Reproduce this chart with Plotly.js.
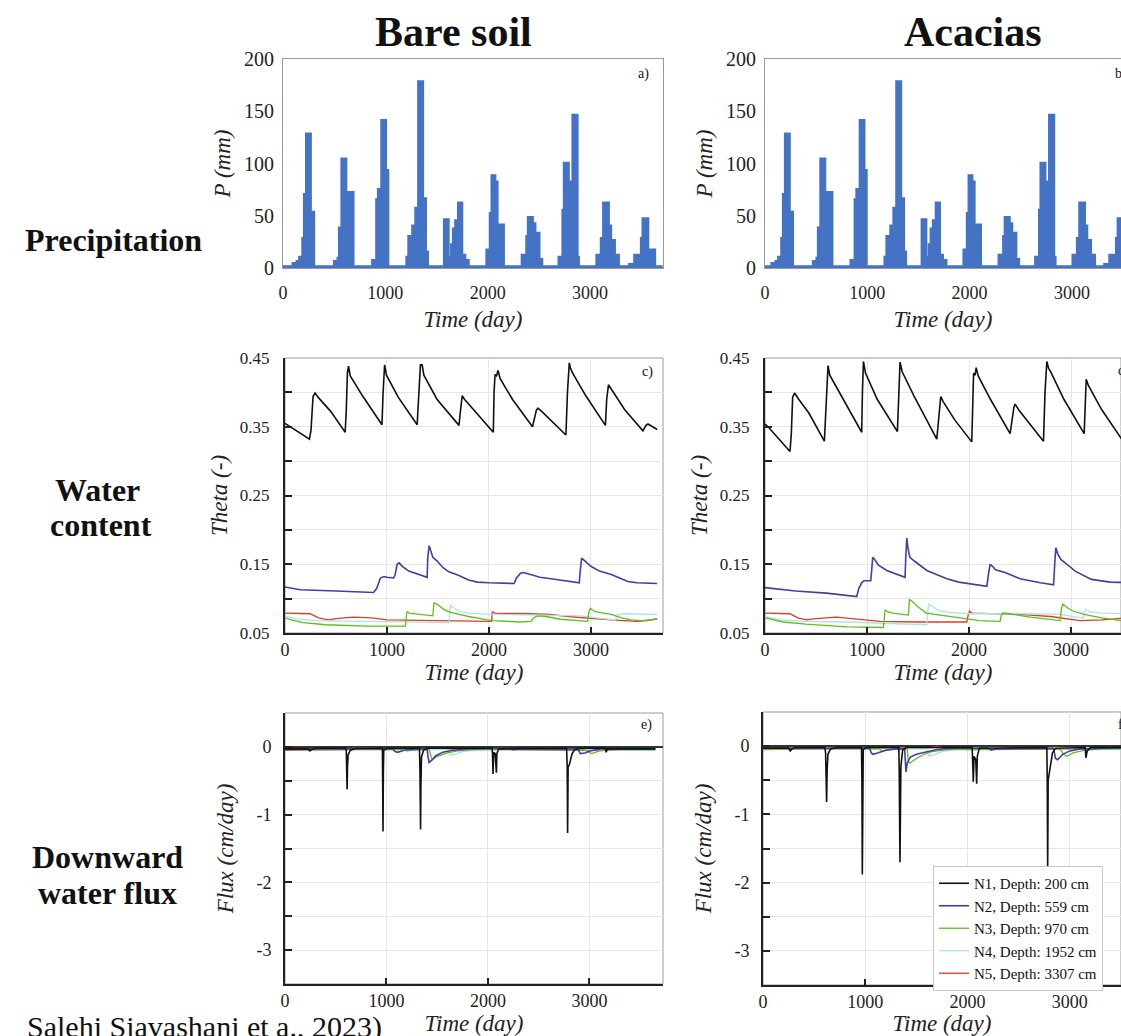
<!DOCTYPE html>
<html><head><meta charset="utf-8">
<script src="https://cdn.plot.ly/plotly-3.0.1.min.js"></script>
<style>html,body{margin:0;padding:0;background:#fff}#chart{width:1121px;height:1036px}</style>
</head><body><div id="chart"></div>
<script>
// ---------------- DATA ----------------
// Precipitation (step starts: day, mm), read off panel a) and panel b)
const pDayBare = [0,100,140,165,196,212,232,265,297,505,540,554,578,612,682,878,918,935,968,1000,1022,1213,1232,1270,1300,1328,1362,1390,1410,1580,1612,1650,1668,1690,1718,1745,1775,1808,1995,2028,2045,2068,2090,2098,2152,2340,2385,2400,2435,2460,2500,2527,2700,2738,2752,2786,2820,2836,2872,2885,3070,3113,3136,3178,3200,3237,3276,3390,3440,3472,3505,3521,3563,3586,3630,3710];
const pDayAcacia = [0,70,110,135,166,182,202,235,267,475,510,524,548,582,652,843,883,900,933,965,987,1175,1194,1232,1262,1290,1324,1352,1372,1538,1570,1608,1626,1648,1676,1703,1733,1766,1947,1980,1997,2020,2042,2050,2104,2290,2335,2350,2385,2410,2450,2477,2648,2686,2700,2734,2768,2784,2820,2833,3013,3056,3079,3121,3143,3180,3219,3323,3373,3405,3438,3454,3496,3519,3563,3643];
const pVal = [1,4,6,10,28,70,128,53,1,6,9,38,104,72,1,7,65,75,141,93,1,10,30,40,57,178,66,15,1,46,10,22,37,45,62,12,7,1,17,52,88,82,30,41,1,12,30,48,42,33,8,1,10,55,100,82,55,146,10,1,12,28,62,40,26,12,1,3,12,8,28,47,5,17,1,1];

const nodeNames = ['N1, Depth: 200 cm','N2, Depth: 559 cm','N3, Depth: 970 cm','N4, Depth: 1952 cm','N5, Depth: 3307 cm'];

// Water content, bare soil [day, theta]
const thetaBareN1 = [[0,0.355],[30,0.352],[240,0.332],[255,0.345],[275,0.394],[295,0.399],[330,0.392],[450,0.372],[590,0.342],[600,0.37],[612,0.428],[623,0.438],[640,0.424],[760,0.395],[951,0.353],[962,0.40],[977,0.44],[995,0.425],[1110,0.393],[1296,0.353],[1310,0.40],[1328,0.44],[1345,0.44],[1362,0.425],[1490,0.39],[1706,0.352],[1722,0.375],[1738,0.395],[1760,0.39],[1880,0.37],[2043,0.342],[2050,0.40],[2060,0.426],[2075,0.424],[2089,0.432],[2110,0.42],[2230,0.39],[2427,0.35],[2440,0.36],[2465,0.374],[2480,0.377],[2520,0.372],[2755,0.338],[2770,0.40],[2788,0.443],[2800,0.435],[2821,0.428],[2950,0.395],[3142,0.352],[3155,0.39],[3172,0.411],[3190,0.407],[3330,0.375],[3510,0.344],[3540,0.352],[3560,0.354],[3600,0.35],[3650,0.346]];
const thetaBareN2 = [[0,0.117],[150,0.113],[500,0.111],[869,0.109],[900,0.115],[935,0.13],[970,0.132],[1000,0.131],[1066,0.13],[1080,0.135],[1100,0.15],[1120,0.152],[1150,0.147],[1214,0.14],[1394,0.131],[1400,0.16],[1414,0.177],[1430,0.17],[1450,0.16],[1490,0.155],[1550,0.145],[1607,0.139],[1700,0.134],[1800,0.127],[1886,0.124],[2000,0.123],[2247,0.122],[2270,0.13],[2310,0.137],[2340,0.138],[2400,0.135],[2500,0.131],[2608,0.129],[2886,0.123],[2895,0.14],[2909,0.159],[2940,0.155],[3000,0.147],[3083,0.14],[3200,0.135],[3362,0.125],[3450,0.123],[3650,0.122]];
const thetaBareN3 = [[0,0.072],[60,0.069],[180,0.065],[400,0.062],[800,0.06],[1181,0.06],[1190,0.075],[1197,0.081],[1220,0.079],[1450,0.075],[1455,0.085],[1462,0.094],[1500,0.091],[1560,0.084],[1624,0.08],[1800,0.074],[1984,0.069],[2050,0.068],[2300,0.066],[2411,0.067],[2440,0.072],[2476,0.075],[2560,0.074],[2700,0.07],[2968,0.067],[2980,0.08],[2995,0.086],[3040,0.081],[3198,0.077],[3300,0.072],[3395,0.069],[3500,0.068],[3650,0.07]];
const thetaBareN4 = [[0,0.075],[100,0.071],[300,0.068],[800,0.067],[1610,0.065],[1615,0.08],[1624,0.09],[1660,0.086],[1720,0.081],[1800,0.079],[2000,0.077],[2500,0.076],[2900,0.075],[3050,0.072],[3200,0.069],[3240,0.069],[3260,0.076],[3300,0.078],[3650,0.077]];
const thetaBareN5 = [[0,0.079],[100,0.079],[246,0.078],[330,0.072],[426,0.069],[500,0.071],[672,0.073],[850,0.072],[1000,0.069],[1500,0.068],[2000,0.067],[2025,0.067],[2034,0.081],[2060,0.079],[2400,0.078],[2600,0.077],[2772,0.074],[3000,0.071],[3198,0.069],[3450,0.067],[3550,0.068],[3650,0.071]];

// Water content, acacias [day, theta]
const thetaAcaN1 = [[0,0.354],[30,0.35],[245,0.314],[258,0.34],[271,0.393],[290,0.399],[330,0.39],[430,0.37],[582,0.329],[595,0.37],[610,0.429],[618,0.439],[635,0.425],[750,0.395],[948,0.342],[955,0.40],[965,0.445],[985,0.428],[1100,0.39],[1298,0.343],[1310,0.40],[1324,0.444],[1345,0.43],[1460,0.395],[1684,0.332],[1700,0.36],[1723,0.394],[1745,0.387],[1860,0.36],[2027,0.328],[2035,0.39],[2045,0.428],[2060,0.425],[2070,0.436],[2090,0.424],[2210,0.39],[2403,0.34],[2420,0.36],[2440,0.378],[2452,0.383],[2490,0.374],[2730,0.329],[2745,0.40],[2763,0.445],[2780,0.435],[2800,0.43],[2930,0.39],[3129,0.34],[3140,0.38],[3149,0.419],[3170,0.41],[3300,0.375],[3492,0.333],[3520,0.34],[3560,0.345],[3650,0.335]];
const thetaAcaN2 = [[0,0.116],[300,0.111],[600,0.108],[899,0.103],[920,0.115],[948,0.123],[970,0.126],[1037,0.126],[1045,0.14],[1056,0.16],[1075,0.157],[1110,0.149],[1194,0.141],[1373,0.131],[1380,0.16],[1390,0.188],[1400,0.175],[1420,0.16],[1470,0.154],[1586,0.141],[1700,0.134],[1782,0.129],[1900,0.124],[2000,0.122],[2175,0.118],[2190,0.135],[2207,0.15],[2230,0.147],[2260,0.142],[2354,0.138],[2500,0.129],[2700,0.123],[2829,0.12],[2840,0.15],[2851,0.174],[2870,0.165],[2900,0.157],[2960,0.15],[3041,0.14],[3200,0.128],[3384,0.124],[3650,0.123]];
const thetaAcaN3 = [[0,0.072],[180,0.066],[400,0.063],[800,0.059],[1161,0.058],[1170,0.075],[1177,0.084],[1200,0.081],[1250,0.079],[1406,0.076],[1410,0.09],[1416,0.099],[1450,0.095],[1500,0.088],[1580,0.079],[1800,0.074],[1978,0.07],[2100,0.068],[2305,0.067],[2315,0.075],[2332,0.079],[2400,0.078],[2600,0.073],[2894,0.068],[2905,0.085],[2920,0.092],[2960,0.087],[3020,0.082],[3129,0.077],[3300,0.072],[3492,0.068],[3650,0.07]];
const thetaAcaN4 = [[0,0.074],[150,0.069],[400,0.067],[800,0.066],[1586,0.062],[1595,0.08],[1602,0.092],[1640,0.089],[1700,0.083],[1800,0.08],[2000,0.078],[2500,0.078],[2900,0.077],[3050,0.073],[3120,0.072],[3130,0.08],[3139,0.085],[3180,0.081],[3280,0.079],[3650,0.078]];
const thetaAcaN5 = [[0,0.079],[120,0.079],[245,0.078],[320,0.072],[409,0.069],[500,0.071],[703,0.073],[850,0.071],[1128,0.067],[1500,0.066],[1978,0.066],[1990,0.075],[2004,0.082],[2030,0.079],[2300,0.078],[2500,0.077],[2800,0.074],[3090,0.068],[3300,0.069],[3492,0.072],[3650,0.073]];

// Downward water flux, bare soil [day, cm/day]
const fluxBareN1 = [[0,-0.03],[230,-0.03],[245,-0.06],[260,-0.04],[300,-0.02],[594,-0.02],[604,-0.05],[609,-0.3],[612,-0.63],[616,-0.3],[622,-0.12],[644,-0.05],[700,-0.02],[960,-0.02],[963,-0.5],[966,-1.25],[969,-0.4],[973,-0.05],[1005,-0.02],[1325,-0.02],[1330,-0.35],[1333,-0.8],[1336,-1.22],[1339,-0.6],[1345,-0.15],[1365,-0.05],[1400,-0.02],[2040,-0.02],[2045,-0.1],[2050,-0.4],[2056,-0.08],[2071,-0.1],[2083,-0.38],[2088,-0.1],[2105,-0.03],[2775,-0.02],[2781,-0.3],[2785,-1.27],[2790,-0.3],[2805,-0.25],[2815,-0.18],[2830,-0.1],[2855,-0.04],[2910,-0.02],[3156,-0.02],[3165,-0.08],[3176,-0.03],[3650,-0.03]];
const fluxBareN2 = [[0,-0.03],[1000,-0.02],[1060,-0.03],[1085,-0.07],[1110,-0.08],[1150,-0.06],[1200,-0.04],[1300,-0.03],[1400,-0.03],[1410,-0.15],[1420,-0.23],[1445,-0.2],[1485,-0.13],[1555,-0.08],[1655,-0.05],[1800,-0.03],[2200,-0.02],[2250,-0.04],[2300,-0.03],[2885,-0.03],[2910,-0.1],[2955,-0.09],[3005,-0.06],[3105,-0.03],[3650,-0.03]];
const fluxBareN3 = [[0,-0.04],[1150,-0.04],[1200,-0.06],[1250,-0.05],[1420,-0.04],[1435,-0.12],[1450,-0.19],[1500,-0.14],[1600,-0.09],[1700,-0.06],[1850,-0.04],[2950,-0.04],[2990,-0.07],[3020,-0.1],[3100,-0.06],[3250,-0.04],[3650,-0.04]];
const fluxBareN4 = [[0,-0.04],[1595,-0.04],[1615,-0.08],[1635,-0.13],[1685,-0.1],[1755,-0.07],[1855,-0.05],[2000,-0.04],[3250,-0.04],[3300,-0.05],[3650,-0.05]];
const fluxBareN5 = [[0,-0.05],[600,-0.04],[700,-0.01],[900,-0.02],[1600,-0.03],[2000,-0.04],[2800,-0.05],[3650,-0.04]];

// Downward water flux, acacias [day, cm/day]
const fluxAcaN1 = [[0,-0.03],[250,-0.03],[266,-0.07],[285,-0.04],[320,-0.02],[605,-0.02],[612,-0.1],[617,-0.35],[622,-0.82],[627,-0.35],[635,-0.12],[660,-0.04],[720,-0.02],[963,-0.02],[967,-0.5],[971,-1.88],[975,-0.5],[980,-0.05],[1010,-0.02],[1328,-0.02],[1332,-0.4],[1335,-0.85],[1339,-1.7],[1343,-1.1],[1348,-0.3],[1365,-0.06],[1400,-0.02],[2045,-0.02],[2050,-0.2],[2056,-0.52],[2063,-0.15],[2080,-0.2],[2089,-0.55],[2095,-0.15],[2115,-0.03],[2775,-0.02],[2779,-0.5],[2783,-1.8],[2788,-0.5],[2800,-0.38],[2815,-0.25],[2830,-0.1],[2860,-0.03],[3150,-0.02],[3157,-0.17],[3170,-0.07],[3200,-0.02],[3650,-0.02]];
const fluxAcaN2 = [[0,-0.03],[1040,-0.03],[1060,-0.1],[1075,-0.12],[1120,-0.1],[1200,-0.06],[1300,-0.04],[1385,-0.04],[1393,-0.25],[1398,-0.38],[1410,-0.25],[1440,-0.16],[1500,-0.12],[1600,-0.08],[1700,-0.05],[1850,-0.03],[2200,-0.03],[2230,-0.06],[2280,-0.04],[2840,-0.03],[2860,-0.18],[2880,-0.2],[2930,-0.12],[3000,-0.07],[3100,-0.04],[3650,-0.02]];
const fluxAcaN3 = [[0,-0.04],[1140,-0.04],[1165,-0.08],[1200,-0.06],[1300,-0.04],[1410,-0.04],[1420,-0.22],[1435,-0.25],[1480,-0.2],[1560,-0.13],[1650,-0.08],[1800,-0.05],[2900,-0.04],[2940,-0.12],[2970,-0.15],[3030,-0.1],[3150,-0.06],[3300,-0.04],[3650,-0.04]];
const fluxAcaN4 = [[0,-0.04],[1595,-0.04],[1610,-0.1],[1625,-0.15],[1680,-0.12],[1750,-0.08],[1850,-0.05],[2000,-0.04],[3150,-0.04],[3170,-0.06],[3250,-0.05],[3650,-0.05]];
const fluxAcaN5 = [[0,-0.05],[600,-0.04],[1650,-0.02],[1700,0.0],[1750,-0.02],[2000,-0.05],[2800,-0.05],[3650,-0.04]];

const timeTicks = [0,1000,2000,3000];
const thetaTicks = [0.05,0.10,0.15,0.20,0.25,0.30,0.35,0.40,0.45];
const thetaTickText = ['0.05','','0.15','','0.25','','0.35','','0.45'];
const fluxTicks = [-3.5,-3,-2.5,-2,-1.5,-1,-0.5,0,0.5];
const fluxTickText = ['','-3','','-2','','-1','','0',''];

// ---------------- STYLE ----------------
const W = 1121, H = 1036;
const px = v => v / W;
const py = v => 1 - v / H;
const SERIF = 'Liberation Serif, Times New Roman, serif';
const nodeColors = ['#111111','#4a3aa6','#5cbf1f','#a9e4e4','#e23a1f'];
const nodeWidths = [1.6,1.6,1.3,1.3,1.3];

const traces = [];
traces.push({x:pDayBare, y:pVal, type:'scatter', mode:'lines', line:{shape:'hv', color:'#4472c4', width:3.5}, fill:'tozeroy', fillcolor:'#4472c4', xaxis:'x', yaxis:'y', showlegend:false, hoverinfo:'skip'});
traces.push({x:pDayAcacia, y:pVal, type:'scatter', mode:'lines', line:{shape:'hv', color:'#4472c4', width:3.5}, fill:'tozeroy', fillcolor:'#4472c4', xaxis:'x2', yaxis:'y2', showlegend:false, hoverinfo:'skip'});

function addGroup(series, xa, ya, legend) {
  for (let i = series.length - 1; i >= 0; i--) {
    traces.push({
      x: series[i].map(d => d[0]), y: series[i].map(d => d[1]),
      type:'scatter', mode:'lines', name: nodeNames[i],
      line:{color:nodeColors[i], width:nodeWidths[i]},
      xaxis:xa, yaxis:ya, showlegend:legend, hoverinfo:'skip'
    });
  }
}
addGroup([thetaBareN1,thetaBareN2,thetaBareN3,thetaBareN4,thetaBareN5],'x3','y3',false);
addGroup([thetaAcaN1,thetaAcaN2,thetaAcaN3,thetaAcaN4,thetaAcaN5],'x4','y4',false);
addGroup([fluxBareN1,fluxBareN2,fluxBareN3,fluxBareN4,fluxBareN5],'x5','y5',false);
addGroup([fluxAcaN1,fluxAcaN2,fluxAcaN3,fluxAcaN4,fluxAcaN5],'x6','y6',true);

const tickFont = {family:SERIF, size:18, color:'#222'};
const titleFont = {family:SERIF, size:23, color:'#222', style:'italic'};

function precipX(dom, range, anchor) {
  return {domain:dom, range:range, anchor:anchor, tickvals:timeTicks, showgrid:false, zeroline:false,
    showline:true, mirror:true, linecolor:'#9a9a9a', linewidth:1, ticks:'', ticklabelstandoff:8,
    tickfont:tickFont, title:{text:'Time (day)', font:titleFont, standoff:9}};
}
function precipY(dom, anchor) {
  return {domain:dom, range:[0,200], anchor:anchor, dtick:50, showgrid:false, zeroline:false,
    showline:true, mirror:true, linecolor:'#9a9a9a', linewidth:1, ticks:'', ticklabelstandoff:4,
    tickfont:{family:SERIF, size:20, color:'#222'}, title:{text:'P (mm)', font:titleFont, standoff:6}};
}
function lowerX(dom, range, anchor, standoff) {
  return {domain:dom, range:range, anchor:anchor, tickvals:timeTicks, showgrid:true, gridcolor:'#e6e6e6', zeroline:false,
    showline:true, linecolor:'#222', linewidth:2, ticks:'inside', ticklen:6, tickwidth:2, tickcolor:'#222',
    ticklabelstandoff:-1, tickfont:tickFont, title:{text:'Time (day)', font:titleFont, standoff:standoff}};
}
function thetaY(dom, anchor) {
  return {domain:dom, range:[0.05,0.45], anchor:anchor, tickvals:thetaTicks, ticktext:thetaTickText,
    showgrid:true, gridcolor:'#e6e6e6', zeroline:false, showline:true, linecolor:'#222', linewidth:2,
    ticks:'inside', ticklen:7, tickwidth:2, tickcolor:'#222', ticklabelstandoff:10,
    tickfont:{family:SERIF, size:17, color:'#222'},
    title:{text:'Theta (-)', font:titleFont, standoff:6}};
}
function fluxY(dom, anchor) {
  return {domain:dom, range:[-3.5,0.5], anchor:anchor, tickvals:fluxTicks, ticktext:fluxTickText,
    showgrid:true, gridcolor:'#e6e6e6', zeroline:true, zerolinecolor:'#333', zerolinewidth:1.5,
    showline:true, linecolor:'#222', linewidth:2, ticks:'inside', ticklen:7, tickwidth:2, tickcolor:'#222',
    ticklabelstandoff:8, tickfont:{family:SERIF, size:18, color:'#222'},
    title:{text:'Flux (cm/day)', font:titleFont, standoff:16}};
}

const colL = [px(283), px(663)], colR = [px(765), 1];
const colL2 = [px(285), px(663)], colR2 = [px(765), 1];
const row1 = [py(268), py(59)], row2 = [py(633), py(358)], row3 = [py(984), py(713)];

function box(n) {
  return {type:'rect', xref:'x'+n+' domain', yref:'y'+n+' domain', x0:0, x1:1, y0:0, y1:1,
    line:{color:'#9a9a9a', width:1}, layer:'below'};
}
function ann(text, x, y, size, opts) {
  return Object.assign({text:text, x:px(x), y:py(y), xref:'paper', yref:'paper', showarrow:false,
    font:{family:SERIF, size:size, color:'#111'}, xanchor:'center', yanchor:'middle'}, opts||{});
}

const layout = {
  width:W, height:H, margin:{l:0, r:0, t:0, b:0}, paper_bgcolor:'#fff', plot_bgcolor:'#fff',
  font:{family:SERIF, color:'#222'},
  xaxis: precipX(colL, [0,3714], 'y'),
  yaxis: precipY(row1, 'x'),
  xaxis2: precipX(colR, [0,3480], 'y2'),
  yaxis2: precipY(row1, 'x2'),
  xaxis3: lowerX(colL2, [0,3707], 'y3', 2),
  yaxis3: thetaY(row2, 'x3'),
  xaxis4: lowerX(colR2, [0,3490], 'y4', 2),
  yaxis4: thetaY(row2, 'x4'),
  xaxis5: lowerX(colL2, [0,3725], 'y5', 3),
  yaxis5: fluxY(row3, 'x5'),
  xaxis6: lowerX([px(763), 1], [0,3500], 'y6', 1),
  yaxis6: fluxY([py(985), py(712)], 'x6'),
  shapes:[box(3), box(4), box(5), box(6)],
  showlegend:true,
  legend:{x:px(933), y:py(866), xanchor:'left', yanchor:'top', bgcolor:'#fff', bordercolor:'#c8c8c8', borderwidth:1,
    font:{family:SERIF, size:15, color:'#111'}, traceorder:'reversed', tracegroupgap:0},
  annotations:[
    ann('<b>Bare soil</b>', 453, 32, 42),
    ann('<b>Acacias</b>', 973, 32, 42),
    ann('<b>Precipitation</b>', 113, 240, 32),
    ann('<b>Water</b>', 97, 490, 32),
    ann('<b>content</b>', 101, 525, 32),
    ann('<b>Downward</b>', 107, 857, 32),
    ann('<b>water flux</b>', 107, 893, 32),
    ann('Salehi Siavashani et a., 2023)', 25, 1027, 30, {xanchor:'left'}),
    ann('a)', 651, 74, 14, {xanchor:'right'}),
    ann('b)', 1113, 74, 14, {xanchor:'left'}),
    ann('c)', 655, 372, 14, {xanchor:'right'}),
    ann('d)', 1116, 371, 14, {xanchor:'left'}),
    ann('e)', 654, 725, 14, {xanchor:'right'}),
    ann('f)', 1116, 725, 14, {xanchor:'left'})
  ]
};

Plotly.newPlot('chart', traces, layout, {displayModeBar:false, staticPlot:true});
</script></body></html>
